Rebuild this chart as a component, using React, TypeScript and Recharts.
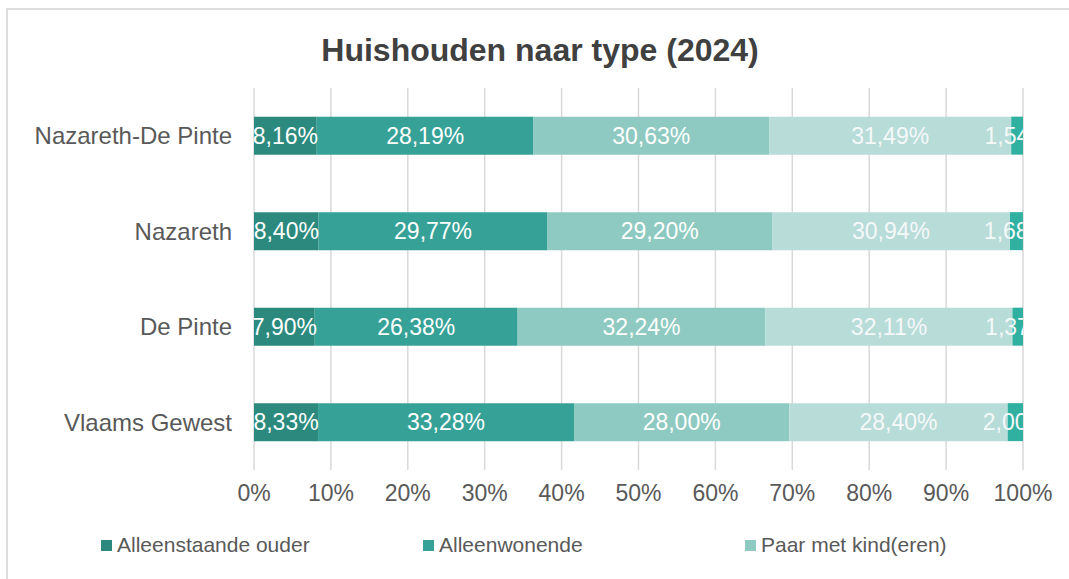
import { BarChart, Bar, XAxis, YAxis, CartesianGrid, Legend, LabelList } from 'recharts';

const regions = ['Nazareth-De Pinte', 'Nazareth', 'De Pinte', 'Vlaams Gewest'];
const alleenstaandeOuder = [8.16, 8.4, 7.9, 8.33];
const alleenwonende = [28.19, 29.77, 26.38, 33.28];
const paarMetKind = [30.63, 29.2, 32.24, 28.0];
const paarZonderKind = [31.49, 30.94, 32.11, 28.4];
const andere = [1.54, 1.68, 1.37, 2.0];
const xTicks = [0, 10, 20, 30, 40, 50, 60, 70, 80, 90, 100];

const series = [
  { key: 'alleenstaande', name: 'Alleenstaande ouder', values: alleenstaandeOuder, color: '#2b8a7d', text: '#ffffff' },
  { key: 'alleenwonende', name: 'Alleenwonende', values: alleenwonende, color: '#36a297', text: '#ffffff' },
  { key: 'paarMet', name: 'Paar met kind(eren)', values: paarMetKind, color: '#8ecac1', text: '#ffffff' },
  { key: 'paarZonder', name: 'Paar zonder kind(eren)', values: paarZonderKind, color: '#b8dcd8', text: '#f4f9f8' },
  { key: 'andere', name: 'Andere', values: andere, color: '#2fb0a1', text: '#f4f9f8' },
];

// only the first three entries fit in the original legend
const legendNames = series.slice(0, 3).map((s) => s.name);

const data = regions.map((name, i) => {
  const row: Record<string, string | number> = { name };
  series.forEach((s) => {
    row[s.key] = s.values[i];
  });
  return row;
});

const FONT = '"Liberation Sans", Arial, sans-serif';
const GREY = '#595959';

const pct = (v: number) => `${v.toFixed(2).replace('.', ',')}%`;

// labels at the outer ends get cut off at the plot edge, like in Excel
function makeLabel(si: number, fill: string) {
  return (props: any) => {
    const { x, y, width, height, value, index } = props;
    const id = `lbl-${si}-${index}`;
    const left = si === 0 ? x : x - 400;
    const right = si === series.length - 1 ? x + width : x + width + 400;
    return (
      <g>
        <defs>
          <clipPath id={id}>
            <rect x={left} y={y} width={right - left} height={height} />
          </clipPath>
        </defs>
        <text
          x={x + width / 2}
          y={y + height / 2}
          textAnchor="middle"
          dominantBaseline="central"
          fill={fill}
          fontSize={23}
          fontFamily={FONT}
          clipPath={`url(#${id})`}
        >
          {pct(Number(value))}
        </text>
      </g>
    );
  };
}

export default function App() {
  return (
    <div style={{ position: 'absolute', left: 0, top: 0, width: 1069, height: 579, overflow: 'hidden', background: '#fff', fontFamily: FONT }}>
      <div style={{ position: 'absolute', left: 6, top: 8, width: 1200, height: 700, borderTop: '2px solid #dedede', borderLeft: '2px solid #dedede' }} />
      <div style={{ position: 'absolute', left: 0, top: 30, width: 1080, textAlign: 'center', fontSize: 32, fontWeight: 'bold', color: '#404040', lineHeight: '40px' }}>
        Huishouden naar type (2024)
      </div>
      <BarChart
        width={1069}
        height={579}
        data={data}
        layout="vertical"
        barCategoryGap="30%"
        margin={{ top: 88, right: 46, bottom: 49, left: 0 }}
        style={{ position: 'absolute', left: 0, top: 0 }}
      >
        <CartesianGrid horizontal={false} stroke="#d9d9d9" strokeWidth={1.5} />
        <XAxis
          type="number"
          domain={[0, 100]}
          ticks={xTicks}
          allowDataOverflow
          tickFormatter={(v) => `${v}%`}
          axisLine={false}
          tickLine={false}
          tickMargin={9}
          height={30}
          tick={{ fill: GREY, fontSize: 23, fontFamily: FONT }}
        />
        <YAxis
          type="category"
          dataKey="name"
          width={254}
          axisLine={false}
          tickLine={false}
          tickMargin={16}
          tick={{ fill: GREY, fontSize: 24, fontFamily: FONT }}
        />
        <Legend
          verticalAlign="bottom"
          wrapperStyle={{ top: 530, bottom: 'auto', left: 0, width: 1069 }}
          content={({ payload }: any) => (
            <div style={{ display: 'flex', alignItems: 'center', height: 30, paddingLeft: 101 }}>
              {legendNames.map((n) => {
                const p = (payload ?? []).find((e: any) => e.value === n);
                if (!p) return null;
                return (
                  <div key={n} style={{ width: 322, display: 'flex', alignItems: 'center' }}>
                    <span style={{ width: 11, height: 11, background: p.color, marginRight: 5 }} />
                    <span style={{ fontSize: 21, color: GREY }}>{p.value}</span>
                  </div>
                );
              })}
            </div>
          )}
        />
        {series.map((s, si) => (
          <Bar key={s.key} dataKey={s.key} name={s.name} stackId="a" fill={s.color} isAnimationActive={false}>
            <LabelList dataKey={s.key} content={makeLabel(si, s.text)} />
          </Bar>
        ))}
      </BarChart>
    </div>
  );
}
